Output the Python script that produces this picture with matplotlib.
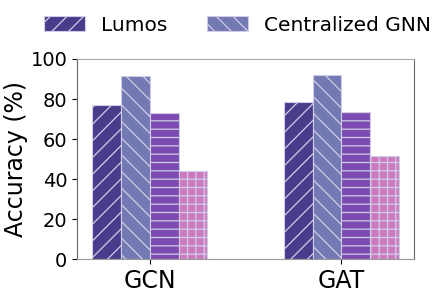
import matplotlib
matplotlib.use("Agg")
import matplotlib.pyplot as plt
import numpy as np

categories = ["GCN", "GAT"]
series_names = ["Lumos", "Centralized GNN", "Variant A", "Variant B"]
lumos = [77.0, 78.3]
centralized = [91.5, 92.0]
variant_a = [73.0, 73.5]
variant_b = [44.0, 51.7]
values = [lumos, centralized, variant_a, variant_b]
colors = ["#483D8B", "#7379B3", "#7C4AB0", "#CC7ABF"]
hatches = ["//", "\\\\", "--", "++"]

plt.rcParams['hatch.color'] = '#e2dcf2'
plt.rcParams['hatch.linewidth'] = 0.9

fig = plt.figure(figsize=(4.43, 2.95), dpi=100)
ax = fig.add_axes([0.174, 0.122, 0.761, 0.678])

x = np.arange(len(categories))
w = 0.15
handles = []
for i, (vals, c, h, name) in enumerate(zip(values, colors, hatches, series_names)):
    b = ax.bar(x + (i - 1.5) * w, vals, w, color=c, hatch=h,
               edgecolor='#d0cce8', linewidth=0.8, label=name)
    handles.append(b)

ax.set_ylim(0, 100)
ax.set_yticks([0, 20, 40, 60, 80, 100])
ax.set_xticks(x)
ax.set_xticklabels(categories, fontsize=17)
ax.tick_params(axis='y', labelsize=14)
ax.set_ylabel("Accuracy (%)", fontsize=17)
ax.yaxis.set_label_coords(-0.145, 0.5)
for s in ax.spines.values():
    s.set_color('#666666')
ax.spines['top'].set_color('#aaaaaa')
ax.spines['bottom'].set_color('#999999')

fig.legend(handles[:2], series_names[:2], loc='center', bbox_to_anchor=(0.536, 0.915),
           ncol=2, frameon=False, fontsize=14.5, handlelength=2.0, columnspacing=2.0)

fig.savefig("out.png", dpi=100)
